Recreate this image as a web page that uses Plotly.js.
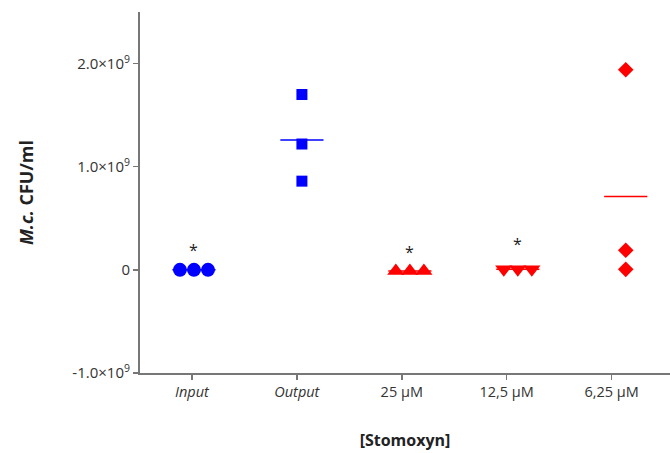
<!DOCTYPE html>
<html><head><meta charset="utf-8">
<script src="https://cdn.plot.ly/plotly-3.0.1.min.js"></script>
<style>body{margin:0;background:#fff}#c{width:670px;height:453px}</style>
</head><body><div id="c"></div>
<script>
const categories = ["<i>Input</i>", "<i>Output</i>", "25 µM", "12,5 µM", "6,25 µM"];
const inputVals  = [0.0, 0.0, 0.0];
const outputVals = [1.70e9, 1.22e9, 0.86e9];
const s25Vals    = [-0.01e9, -0.01e9, -0.01e9];
const s125Vals   = [0.005e9, 0.005e9, 0.005e9];
const s625Vals   = [1.94e9, 0.19e9, 0.005e9];
const starY      = [0.19e9, null, 0.17e9, 0.25e9, null];
const yTickVals  = [-1e9, 0, 1e9, 2e9];
const yTickText  = ["-1.0×10<sup>9</sup>", "0", "1.0×10<sup>9</sup>", "2.0×10<sup>9</sup>"];

const groups = [
  {v: inputVals,  color: "#0000ff", symbol: "circle",        size: 14, spread: true},
  {v: outputVals, color: "#0000ff", symbol: "square",        size: 11, spread: false},
  {v: s25Vals,    color: "#ff0000", symbol: "triangle-up",   size: 15, spread: true},
  {v: s125Vals,   color: "#ff0000", symbol: "triangle-down", size: 15, spread: true},
  {v: s625Vals,   color: "#ff0000", symbol: "diamond",       size: 12, spread: false}
];

const traces = [];
groups.forEach((g, i) => {
  const xs = g.v.map((_, k) => g.spread ? i + (k - 1) * 0.13 : i);
  const mean = g.v.reduce((a, b) => a + b, 0) / g.v.length;
  traces.push({x: [i - 0.2, i + 0.2], y: [mean, mean], mode: "lines",
    line: {color: g.color, width: 1.5}, hoverinfo: "skip"});
  traces.push({x: xs, y: g.v, mode: "markers",
    marker: {color: g.color, symbol: g.symbol, size: g.size, line: {width: 0}}});
});

const tickPos = categories.map((_, i) => i * 0.972 - 0.019);
const annotations = [];
starY.forEach((y, i) => {
  if (y !== null) annotations.push({x: i, y: y, text: "*", showarrow: false,
    font: {size: 16, color: "#222"}, xref: "x", yref: "y"});
});

const layout = {
  width: 670, height: 453,
  margin: {l: 140, r: 0, t: 12, b: 80},
  showlegend: false,
  paper_bgcolor: "#fff", plot_bgcolor: "#fff",
  font: {family: "Open Sans, sans-serif", color: "#333"},
  xaxis: {
    range: [-0.5, 4.41], tickmode: "array", tickvals: tickPos, ticktext: categories,
    showgrid: false, zeroline: false, showline: true, linecolor: "#777", linewidth: 2,
    ticks: "outside", ticklen: 5, tickcolor: "#777", tickwidth: 1.5,
    tickfont: {size: 14.5, color: "#333"},
    title: {text: "<b>[Stomoxyn]</b>", font: {size: 16, color: "#222"}, standoff: 34}
  },
  yaxis: {
    range: [-1e9, 2.5e9], tickmode: "array", tickvals: yTickVals, ticktext: yTickText,
    showgrid: false, zeroline: false, showline: true, linecolor: "#777", linewidth: 2,
    ticks: "outside", ticklen: 5, tickcolor: "#777", tickwidth: 1.5,
    tickfont: {size: 15, color: "#333"},
    title: {text: "<b><i>M.c.</i> CFU/ml</b>", font: {size: 18, color: "#222"}, standoff: 34}
  },
  annotations: annotations
};
Plotly.newPlot("c", traces, layout, {displayModeBar: false, staticPlot: true});
</script></body></html>
